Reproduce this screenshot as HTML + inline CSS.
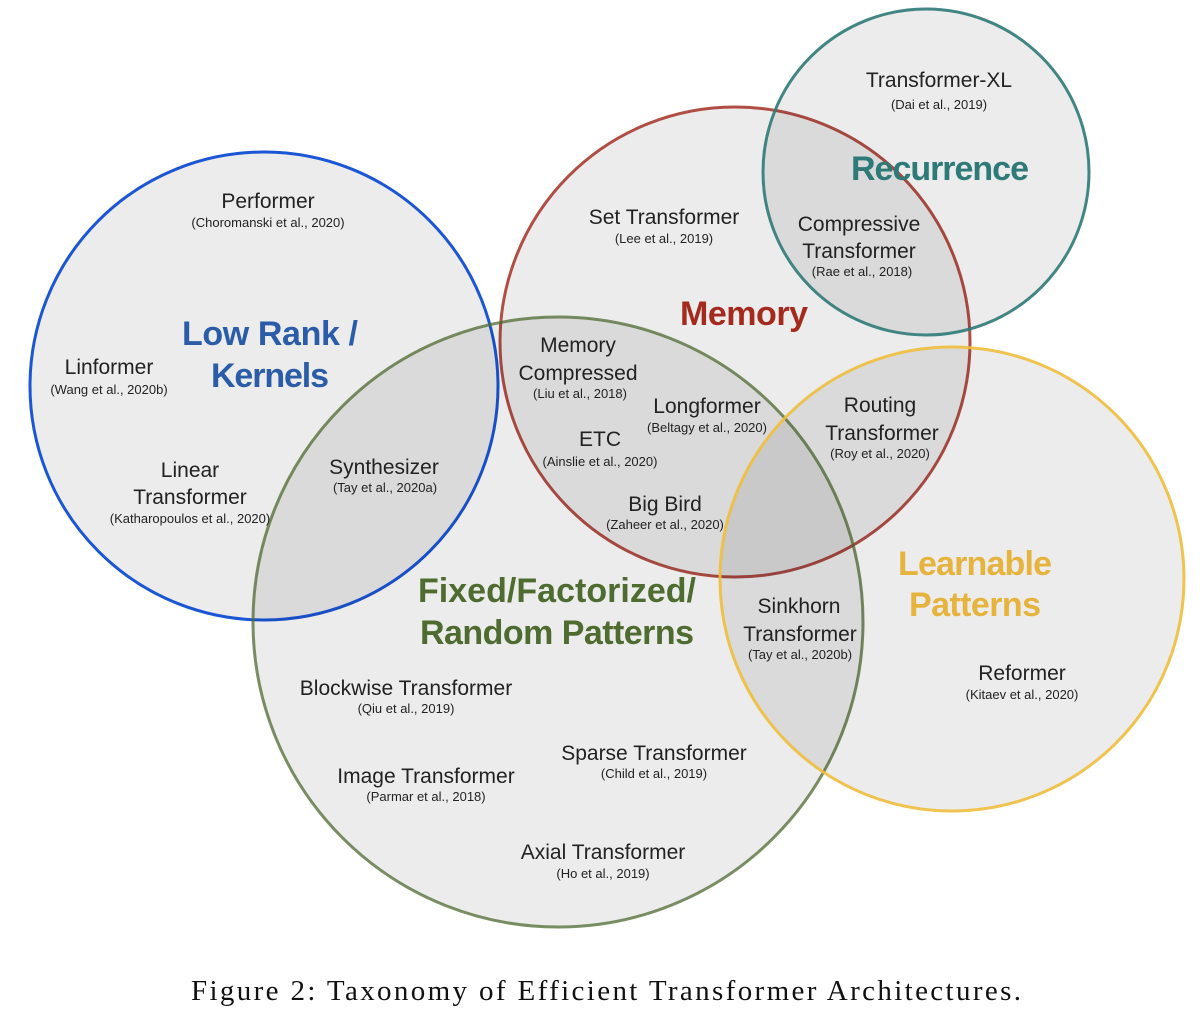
<!DOCTYPE html>
<html><head><meta charset="utf-8"><style>
body{margin:0;background:#fff;}
svg{display:block;font-family:"Liberation Sans",sans-serif;}
.n{font-size:21px;fill:#222;text-anchor:middle;}
.c{font-size:13px;fill:#222;text-anchor:middle;}
.h{font-size:34px;font-weight:bold;text-anchor:middle;}
</style></head><body>
<svg width="1200" height="1023" viewBox="0 0 1200 1023">
<g fill="rgba(0,0,0,0.075)" stroke-width="3">
<circle cx="264" cy="386" r="234" stroke="#1a56d6"/>
<circle cx="735" cy="342" r="235" stroke="rgba(160,36,24,0.8)"/>
<circle cx="926" cy="172" r="163" stroke="rgba(46,122,120,0.9)"/>
<circle cx="558" cy="622" r="305" stroke="rgba(78,107,48,0.75)"/>
<circle cx="952" cy="579" r="232" stroke="rgba(240,190,60,0.9)"/>
</g>
<text class="h" x="270" y="345" fill="#2a5ca8" textLength="176">Low Rank /</text>
<text class="h" x="270" y="387" fill="#2a5ca8" textLength="118">Kernels</text>
<text class="h" x="744" y="325" fill="#a32a1c" textLength="128">Memory</text>
<text class="h" x="940" y="180" fill="#2e7a78" textLength="178">Recurrence</text>
<text class="h" x="557" y="602" fill="#4e6b30" textLength="278">Fixed/Factorized/</text>
<text class="h" x="557" y="644" fill="#4e6b30" textLength="274">Random Patterns</text>
<text class="h" x="975" y="575" fill="#e6b33c" textLength="154">Learnable</text>
<text class="h" x="975" y="616" fill="#e6b33c" textLength="132">Patterns</text>

<text class="n" x="939" y="87">Transformer-XL</text><text class="c" x="939" y="109">(Dai et al., 2019)</text>
<text class="n" x="268" y="208">Performer</text><text class="c" x="268" y="227">(Choromanski et al., 2020)</text>
<text class="n" x="664" y="224">Set Transformer</text><text class="c" x="664" y="243">(Lee et al., 2019)</text>
<text class="n" x="859" y="231">Compressive</text><text class="n" x="859" y="258">Transformer</text><text class="c" x="862" y="276">(Rae et al., 2018)</text>
<text class="n" x="109" y="374">Linformer</text><text class="c" x="109" y="394">(Wang et al., 2020b)</text>
<text class="n" x="578" y="352">Memory</text><text class="n" x="578" y="380">Compressed</text><text class="c" x="580" y="398">(Liu et al., 2018)</text>
<text class="n" x="707" y="413">Longformer</text><text class="c" x="707" y="432">(Beltagy et al., 2020)</text>
<text class="n" x="880" y="412">Routing</text><text class="n" x="882" y="440">Transformer</text><text class="c" x="880" y="458">(Roy et al., 2020)</text>
<text class="n" x="600" y="446">ETC</text><text class="c" x="600" y="466">(Ainslie et al., 2020)</text>
<text class="n" x="190" y="477">Linear</text><text class="n" x="190" y="504">Transformer</text><text class="c" x="190" y="523">(Katharopoulos et al., 2020)</text>
<text class="n" x="384" y="474">Synthesizer</text><text class="c" x="385" y="492">(Tay et al., 2020a)</text>
<text class="n" x="665" y="511">Big Bird</text><text class="c" x="665" y="529">(Zaheer et al., 2020)</text>
<text class="n" x="799" y="613">Sinkhorn</text><text class="n" x="800" y="641">Transformer</text><text class="c" x="800" y="659">(Tay et al., 2020b)</text>
<text class="n" x="1022" y="680">Reformer</text><text class="c" x="1022" y="699">(Kitaev et al., 2020)</text>
<text class="n" x="406" y="695">Blockwise Transformer</text><text class="c" x="406" y="713">(Qiu et al., 2019)</text>
<text class="n" x="654" y="760">Sparse Transformer</text><text class="c" x="654" y="778">(Child et al., 2019)</text>
<text class="n" x="426" y="783">Image Transformer</text><text class="c" x="426" y="801">(Parmar et al., 2018)</text>
<text class="n" x="603" y="859">Axial Transformer</text><text class="c" x="603" y="878">(Ho et al., 2019)</text>
<text x="606" y="1000" text-anchor="middle" font-family="Liberation Serif, serif" font-size="29" fill="#111" textLength="830" lengthAdjust="spacing">Figure 2: Taxonomy of Efficient Transformer Architectures.</text>
</svg>
</body></html>
